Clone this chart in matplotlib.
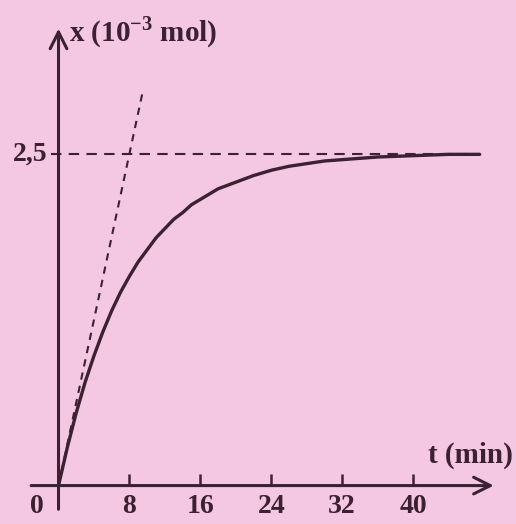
import numpy as np
import matplotlib.pyplot as plt

plt.rcParams["font.family"] = ["Liberation Serif"]
plt.rcParams["font.weight"] = "bold"
plt.rcParams["mathtext.fontset"] = "custom"
plt.rcParams["mathtext.rm"] = "Liberation Serif:bold"
plt.rcParams["mathtext.bf"] = "Liberation Serif:bold"

# values (x in 10^-3 mol, t in min)
t_min = [0, 1, 2, 3, 4, 5, 6, 7, 8, 9, 10, 11, 12, 13, 14, 15, 16, 18, 20, 22,
         24, 26, 28, 30, 32, 36, 40, 44, 47.5]
x_mol = [0, 0.29, 0.55, 0.78, 0.98, 1.16, 1.32, 1.46, 1.58, 1.69, 1.78, 1.87, 1.94,
         2.01, 2.06, 2.12, 2.16, 2.24, 2.29, 2.34, 2.38, 2.41, 2.43, 2.45, 2.46,
         2.48, 2.49, 2.5, 2.5]
t_ticks = [8, 16, 24, 32, 40]
x_final = 2.5
tangent_t = [0, 9.55]
tangent_x = [0, 2.99]

ink = "#3a2232"
bg = "#f4c7e2"

fig = plt.figure(figsize=(5.16, 5.24), dpi=100)
fig.patch.set_facecolor(bg)
ax = fig.add_axes([0, 0, 1, 1])
ax.set_facecolor(bg)
ax.set_xlim(-6.6, 51.6)
ax.set_ylim(-0.29, 3.665)
ax.axis("off")

# axes with arrows
ax.annotate("", xy=(49.4, 0), xytext=(-3.4, 0),
            arrowprops=dict(arrowstyle="->", lw=2.2, color=ink, mutation_scale=30))
ax.annotate("", xy=(0, 3.47), xytext=(0, -0.2),
            arrowprops=dict(arrowstyle="->", lw=2.2, color=ink, mutation_scale=30))
ax.vlines(t_ticks, 0, 0.09, color=ink, lw=1.8)

# asymptote and tangent at origin
ax.plot([-0.9, t_min[-1]], [x_final, x_final], ls=(0, (5, 3.5)), lw=1.5, color=ink)
ax.plot(tangent_t, tangent_x, ls=(0, (3.5, 3)), lw=1.5, color=ink)

ax.plot(t_min, x_mol, color=ink, lw=2.4, solid_capstyle="round", solid_joinstyle="round")

fs = 20
for t in t_ticks:
    ax.text(t, -0.16, str(t), ha="center", va="center", fontsize=fs, color=ink)
ax.text(-2.4, -0.16, "0", ha="center", va="center", fontsize=fs, color=ink)
ax.text(-1.2, x_final, "2,5", ha="right", va="center", fontsize=fs, color=ink)
ax.text(1.2, 3.42, r"x (10$^{-3}$ mol)", ha="left", va="center", fontsize=fs + 1, color=ink)
ax.text(51.2, 0.23, "t (min)", ha="right", va="center", fontsize=fs + 1, color=ink)

fig.savefig("out.png", dpi=100, facecolor=bg)
